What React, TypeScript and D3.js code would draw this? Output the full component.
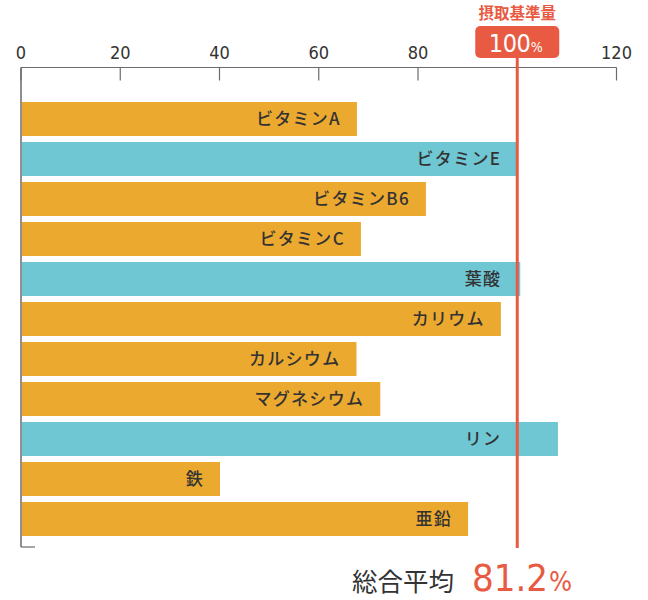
import React from 'react';
import * as d3 from 'd3';

const nutrients = ['ビタミンA', 'ビタミンE', 'ビタミンB6', 'ビタミンC', '葉酸', 'カリウム', 'カルシウム', 'マグネシウム', 'リン', '鉄', '亜鉛'];
const intakePct = [67.7, 100, 81.6, 68.5, 100.6, 96.7, 67.6, 72.4, 108.2, 40.1, 90.1];
const xTicks = [0, 20, 40, 60, 80, 100, 120];
const tickLabels = ['0', '20', '40', '60', '80', '', '120'];
const standardValue = 100;
const standardTitle = '摂取基準量';
const averageLabel = '総合平均';
const averageValue = '81.2';

const WIDTH = 648;
const HEIGHT = 600;
const ORANGE = '#ECA92F';
const TEAL = '#6FC7D3';
const RED = '#E85A42';
const AXIS = '#6b6b6b';
const TEXT = '#333333';
const CJK = "'Noto Sans CJK JP', 'Noto Sans', sans-serif";
const NUM = "'DejaVu Sans Condensed', 'DejaVu Sans', sans-serif";

const App: React.FC = () => {
  const x = d3.scaleLinear().domain([0, 120]).range([21, 616.5]);
  const y = d3.scaleBand<string>()
    .domain(nutrients)
    .range([99, 539])
    .paddingInner(0.15)
    .paddingOuter(0.075);

  const axisY = 67.5;
  const bottomY = 547;
  const refX = x(standardValue);

  return (
    <svg width={WIDTH} height={HEIGHT} style={{ position: 'absolute', left: 0, top: 0, background: '#fff' }}>
      {/* 棒 */}
      {nutrients.map((name, i) => {
        const v = intakePct[i];
        const by = y(name) ?? 0;
        const labelX = Math.min(x(v), refX) - 16;
        return (
          <g key={name}>
            <rect
              x={x(0) + 1}
              y={by}
              width={x(v) - x(0) - 1}
              height={y.bandwidth()}
              fill={v >= standardValue ? TEAL : ORANGE}
            />
            <text
              x={labelX}
              y={by + y.bandwidth() / 2 + 6}
              textAnchor="end"
              fontFamily={CJK}
              fontWeight={500}
              fontSize={17}
              letterSpacing={1.3}
              fill={TEXT}
            >
              {name}
            </text>
          </g>
        );
      })}

      {/* 軸 */}
      <line x1={x(0)} x2={x(120)} y1={axisY} y2={axisY} stroke={AXIS} strokeWidth={1.2} />
      <line x1={x(0)} x2={x(0)} y1={axisY} y2={bottomY} stroke={AXIS} strokeWidth={1.5} />
      <line x1={x(0)} x2={x(0) + 14} y1={bottomY} y2={bottomY} stroke={AXIS} strokeWidth={1.2} />
      {xTicks.map((t, i) => (
        <g key={t}>
          {t !== standardValue && (
            <line x1={x(t)} x2={x(t)} y1={axisY} y2={axisY + 13} stroke={AXIS} strokeWidth={1.2} />
          )}
          {tickLabels[i] && (
            <text
              x={x(t)}
              y={59}
              textAnchor="middle"
              fontFamily={NUM}
              fontStretch="condensed"
              fontSize={18}
              fill={TEXT}
            >
              {tickLabels[i]}
            </text>
          )}
        </g>
      ))}

      {/* 基準線 */}
      <line x1={refX} x2={refX} y1={56} y2={548} stroke={RED} strokeWidth={3} />
      <text x={refX} y={19} textAnchor="middle" fontFamily={CJK} fontWeight={700} fontSize={15.5} fill={RED}>
        {standardTitle}
      </text>
      <rect x={refX - 42} y={26} width={84} height={32} rx={5} fill={RED} />
      <text x={refX + 13} y={52} textAnchor="end" fontFamily={NUM} fontStretch="condensed" fontSize={25} letterSpacing={-0.5} fill="#fff">
        {standardValue}
      </text>
      <text x={refX + 13.5} y={52} textAnchor="start" fontFamily={NUM} fontStretch="condensed" fontSize={14} fill="#fff">
        %
      </text>

      {/* 総合平均 */}
      <text x={352} y={591} fontFamily={CJK} fontSize={25.5} fill={TEXT}>
        {averageLabel}
      </text>
      <text x={472} y={591} fontFamily={NUM} fontStretch="condensed" fontSize={38} fill={RED}>
        {averageValue}
      </text>
      <text x={549} y={591} fontFamily={NUM} fontStretch="condensed" fontSize={27} fill={RED}>
        %
      </text>
    </svg>
  );
};

export default App;
